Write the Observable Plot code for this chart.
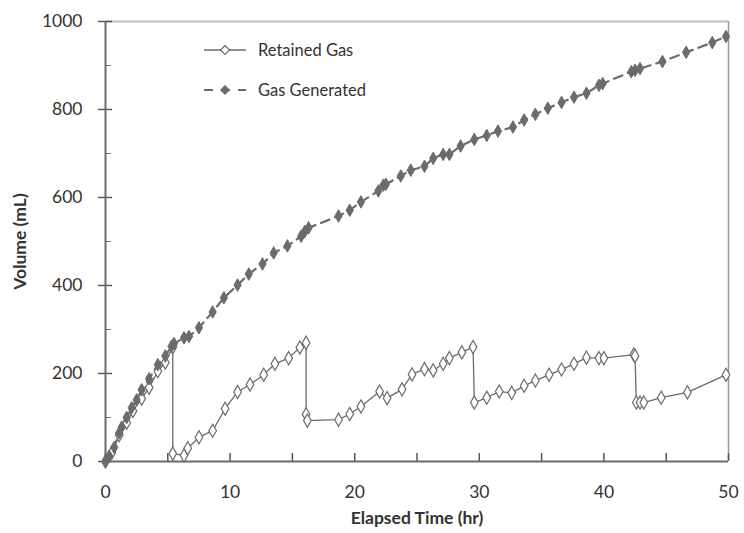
<!DOCTYPE html>
<html>
<head>
<meta charset="utf-8">
<script src="https://cdn.jsdelivr.net/npm/d3@7"></script>
<script src="https://cdn.jsdelivr.net/npm/@observablehq/plot@0.6"></script>
<style>
  body { margin: 0; background: #fff; }
  #wrap { position: relative; width: 744px; height: 533px; font-family: Lato, "Open Sans", sans-serif; }
  g[aria-label="x-axis label"] text, g[aria-label="y-axis label"] text { font-weight: bold; }
  #legend { position: absolute; left: 200px; top: 36px; font-size: 16.5px; color: #333; }
  #legend div { display: flex; align-items: center; height: 28px; margin-bottom: 12px; }
  #legend svg { margin-right: 8px; }
</style>
</head>
<body>
<div id="wrap">
  <div id="legend"></div>
</div>
<script>
// Elapsed time (hr) and volume (mL)
const retainedTime = [0, 0.5, 1.1, 1.7, 2.2, 2.9, 3.5, 4.2, 4.8, 5.4, 5.4, 6.3, 6.6, 7.5, 8.6, 9.6, 10.6, 11.6, 12.7, 13.6, 14.7, 15.6, 16.1, 16.1, 16.2, 18.7, 19.6, 20.5, 22.0, 22.6, 23.8, 24.6, 25.6, 26.3, 27.1, 27.6, 28.6, 29.5, 29.6, 30.6, 31.6, 32.6, 33.6, 34.5, 35.6, 36.6, 37.6, 38.6, 39.6, 40.0, 42.4, 42.5, 42.6, 42.9, 43.2, 44.6, 46.7, 49.8];
const retainedVol  = [0, 20, 60, 88, 115, 143, 168, 205, 225, 260, 18, 14, 30, 55, 70, 120, 158, 175, 197, 222, 235, 259, 270, 107, 93, 95, 108, 125, 159, 144, 164, 198, 210, 207, 222, 235, 248, 260, 134, 145, 159, 156, 172, 184, 197, 209, 222, 236, 235, 235, 243, 240, 134, 134, 134, 145, 157, 197];

const generatedTime = [0, 0.3, 0.7, 1.1, 1.3, 1.7, 2.1, 2.5, 2.9, 3.5, 4.2, 4.8, 5.3, 5.5, 6.3, 6.7, 7.5, 8.6, 9.5, 10.6, 11.5, 12.6, 13.5, 14.6, 15.7, 16.0, 16.3, 18.7, 19.6, 20.5, 21.9, 22.3, 22.5, 23.7, 24.5, 25.6, 26.3, 27.1, 27.6, 28.5, 29.6, 30.6, 31.5, 32.7, 33.6, 34.5, 35.5, 36.6, 37.6, 38.6, 39.6, 39.9, 42.2, 42.5, 42.9, 44.7, 46.6, 48.7, 49.8];
const generatedVol  = [0, 12, 32, 65, 78, 100, 122, 140, 163, 188, 220, 240, 262, 268, 281, 284, 304, 340, 372, 401, 426, 449, 474, 490, 512, 523, 531, 558, 571, 590, 615, 628, 630, 649, 662, 671, 689, 698, 698, 717, 732, 741, 751, 760, 776, 789, 803, 816, 828, 837, 855, 859, 886, 889, 893, 909, 930, 952, 966];

const seriesNames = ["Retained Gas", "Gas Generated"];
const xTickLabels = [0, 10, 20, 30, 40, 50];
const xTicks = [0, 5, 10, 15, 20, 25, 30, 35, 40, 45, 50];
const yTickLabels = [0, 200, 400, 600, 800, 1000];
const yMinorTicks = [100, 300, 500, 700, 900];

const retained = retainedTime.map((t, i) => ({t, v: retainedVol[i]}));
const generated = generatedTime.map((t, i) => ({t, v: generatedVol[i]}));

const grey = "#6b6b6b";

const chart = Plot.plot({
  width: 744,
  height: 533,
  marginLeft: 105,
  marginRight: 16,
  marginTop: 21,
  marginBottom: 72,
  x: {domain: [0, 50]},
  y: {domain: [0, 1000]},
  style: {fontFamily: "Lato, 'Open Sans', sans-serif", fontSize: "16px", color: "#333", background: "#fff"},
  marks: [
    Plot.ruleY([1000], {stroke: "#bdbdbd", strokeWidth: 2}),
    Plot.ruleX([50], {stroke: "#9a9a9a", strokeWidth: 1.5}),
    Plot.axisY(yTickLabels, {tickSize: 7, tickPadding: 16, stroke: "#555", strokeWidth: 1.5,
      tickFormat: d3.format("d"),
      label: "Volume (mL)", labelAnchor: "center", labelArrow: false, labelOffset: 92, fontSize: 17.5}),
    Plot.axisY(yTickLabels, {tickSize: -7, tickFormat: () => "", label: null, stroke: "#555", strokeWidth: 1.5}),
    Plot.axisY(yMinorTicks, {tickSize: -6, tickFormat: () => "", label: null, stroke: "#777"}),
    Plot.axisX(xTickLabels, {tickSize: 0, tickPadding: 24,
      label: "Elapsed Time (hr)", labelAnchor: "center", labelArrow: false, labelOffset: 62, fontSize: 17.5}),
    Plot.axisX(xTicks, {tickSize: -8, tickFormat: () => "", label: null, stroke: "#555", strokeWidth: 1.5}),
    Plot.ruleX([0], {stroke: "#6a6a6a", strokeWidth: 2}),
    Plot.ruleY([0], {stroke: "#6a6a6a", strokeWidth: 2}),
    Plot.line(retained, {x: "t", y: "v", stroke: grey, strokeWidth: 1.3}),
    Plot.dot(retained, {x: "t", y: "v", symbol: "diamond", r: 4, stroke: grey, strokeWidth: 1.2, fill: "#fff"}),
    Plot.line(generated, {x: "t", y: "v", stroke: grey, strokeWidth: 2.2, strokeDasharray: "9,6"}),
    Plot.dot(generated, {x: "t", y: "v", symbol: "diamond", r: 3.8, fill: grey, stroke: grey, strokeWidth: 1})
  ]
});
document.getElementById("wrap").prepend(chart);

// Legend
const legend = document.getElementById("legend");
const sym = [
  `<svg width="50" height="16"><line x1="4" y1="8" x2="46" y2="8" stroke="${grey}" stroke-width="1.3"/><path d="M25,3.5 L29.5,8 L25,12.5 L20.5,8 Z" fill="#fff" stroke="${grey}" stroke-width="1.2"/></svg>`,
  `<svg width="50" height="16"><line x1="4" y1="8" x2="46" y2="8" stroke="${grey}" stroke-width="2.2" stroke-dasharray="9,8"/><path d="M25,3 L30,8 L25,13 L20,8 Z" fill="${grey}"/></svg>`
];
seriesNames.forEach((n, i) => {
  const row = document.createElement("div");
  row.innerHTML = sym[i] + `<span>${n}</span>`;
  legend.appendChild(row);
});
</script>
</body>
</html>
